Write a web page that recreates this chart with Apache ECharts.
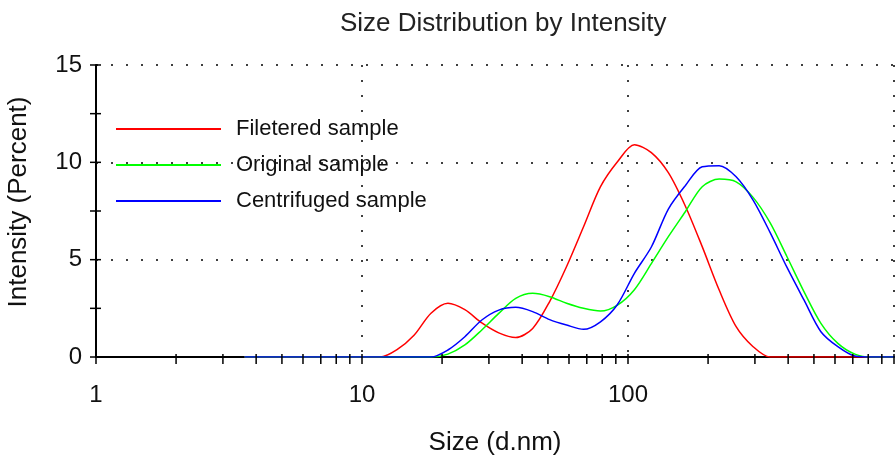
<!DOCTYPE html>
<html>
<head>
<meta charset="utf-8">
<script src="https://cdn.jsdelivr.net/npm/echarts@6/dist/echarts.min.js"></script>
<style>
  html, body { margin: 0; padding: 0; background: #fff; overflow: hidden; }
  #chart { width: 100vw; height: 100vh; }
</style>
</head>
<body>
<div id="chart"></div>
<script>
// size classes (d.nm)
const sizes = [3.615, 4.187, 4.849, 5.615, 6.503, 7.531, 8.721, 10.10, 11.70, 13.54,
  15.69, 18.17, 21.04, 24.36, 28.21, 32.67, 37.84, 43.82, 50.75, 58.77,
  68.06, 78.82, 91.28, 105.7, 122.4, 141.8, 164.2, 190.1, 220.2, 255.0,
  295.3, 342.0, 396.1, 458.7, 531.2, 615.1, 712.4, 825.0, 955.4, 1106]

// intensity (%) per size class
const filtered = [0, 0, 0, 0, 0, 0, 0, 0, 0, 0.38,
  1.12, 2.25, 2.76, 2.43, 1.75, 1.24, 1.0, 1.47, 2.85, 4.65,
  6.69, 8.75, 10.03, 10.9, 10.5, 9.47, 7.76, 5.67, 3.44, 1.56,
  0.53, 0, 0, 0, 0, 0, 0, 0, 0, 0]
const original = [0, 0, 0, 0, 0, 0, 0, 0, 0, 0,
  0, 0, 0.15, 0.62, 1.39, 2.24, 3.01, 3.27, 3.1, 2.76,
  2.5, 2.36, 2.67, 3.46, 4.8, 6.18, 7.46, 8.75, 9.14, 9.0,
  8.2, 6.9, 5.15, 3.36, 1.73, 0.7, 0.15, 0, 0, 0]
const centrifuged = [0, 0, 0, 0, 0, 0, 0, 0, 0, 0,
  0, 0, 0.36, 1.04, 1.9, 2.41, 2.55, 2.33, 1.92, 1.64,
  1.42, 1.81, 2.7, 4.3, 5.65, 7.6, 8.8, 9.77, 9.83, 9.26,
  8.06, 6.4, 4.6, 2.93, 1.3, 0.53, 0.05, 0, 0, 0]

const seriesNames = ['Filetered sample', 'Original sample', 'Centrifuged sample']
const seriesColors = ['#ff0000', '#00ff00', '#0000ff']

// axis tick positions
const xTickValues = [1, 2, 3, 4, 5, 6, 7, 8, 9, 10, 20, 30, 40, 50, 60, 70, 80, 90,
  100, 200, 300, 400, 500, 600, 700, 800, 900, 1000]
const xLabelValues = [1, 10, 100]
const yTickValues = [0, 2.5, 5, 7.5, 10, 12.5, 15]

const font = "'Liberation Sans', Arial, sans-serif"
const dotted = { type: [2, 13], color: '#000', width: 1.5 }
// vertical positions as a share of the 458 px tall picture
const pct = px => (px / 458 * 100).toFixed(2) + '%'

const chart = echarts.init(document.getElementById('chart'), null, { renderer: 'canvas' })

const lineSeries = [filtered, original, centrifuged].map((vals, i) => ({
  name: seriesNames[i],
  type: 'line',
  data: sizes.map((s, j) => [s, vals[j]]),
  showSymbol: false,
  smooth: 0.3,
  clip: true,
  color: seriesColors[i],
  lineStyle: { width: 1.5, color: seriesColors[i] },
  z: 3 + i
}))

chart.setOption({
  animation: false,
  textStyle: { fontFamily: font },
  title: {
    text: 'Size Distribution by Intensity',
    left: 340,
    top: pct(11),
    padding: 0,
    textStyle: { fontFamily: font, fontSize: 26, fontWeight: 'normal', color: '#222' }
  },
  legend: {
    data: seriesNames,
    orient: 'vertical',
    left: 116,
    top: pct(118),
    padding: 0,
    icon: 'rect',
    itemWidth: 105,
    itemHeight: 2,
    itemGap: 14,
    textStyle: { fontFamily: font, fontSize: 22, lineHeight: 22, color: '#111', padding: [0, 0, 0, 10] }
  },
  grid: {
    left: 96,
    right: 1,
    top: pct(65),
    bottom: pct(101),
    containLabel: false,
    outerBoundsMode: 'none'
  },
  xAxis: {
    type: 'log',
    logBase: 10,
    min: 1,
    max: 1000,
    name: 'Size (d.nm)',
    nameLocation: 'middle',
    nameGap: 73,
    nameTextStyle: { fontFamily: font, fontSize: 26, color: '#111' },
    axisLine: { lineStyle: { color: '#000', width: 2 } },
    axisTick: { show: false },
    axisLabel: {
      fontFamily: font,
      fontSize: 24,
      color: '#111',
      margin: 26,
      formatter: v => (xLabelValues.includes(Math.round(v)) ? String(Math.round(v)) : '')
    },
    splitLine: { show: true, lineStyle: dotted }
  },
  yAxis: {
    type: 'value',
    min: 0,
    max: 15,
    interval: 5,
    name: 'Intensity (Percent)',
    nameLocation: 'middle',
    nameGap: 64,
    nameTextStyle: { fontFamily: font, fontSize: 26, color: '#111', padding: [0, 0, 0, 18] },
    axisLine: { show: true, lineStyle: { color: '#000', width: 2 } },
    axisTick: { show: false },
    axisLabel: { fontFamily: font, fontSize: 24, color: '#111', margin: 14 },
    splitLine: { show: true, lineStyle: dotted }
  },
  series: [
    ...lineSeries,
    {
      type: 'custom',
      name: 'xTicks',
      silent: true,
      clip: false,
      z: 10,
      data: xTickValues.map(v => [v, 0]),
      renderItem: (params, api) => {
        const p = api.coord([api.value(0), 0])
        return {
          type: 'line',
          shape: { x1: p[0], y1: p[1] - 3, x2: p[0], y2: p[1] + 7 },
          style: { stroke: '#000', lineWidth: 1.5 }
        }
      }
    },
    {
      type: 'custom',
      name: 'yTicks',
      silent: true,
      clip: false,
      z: 10,
      data: yTickValues.map(v => [1, v]),
      renderItem: (params, api) => {
        const p = api.coord([1, api.value(1)])
        return {
          type: 'line',
          shape: { x1: p[0] - 6, y1: p[1], x2: p[0] + 5, y2: p[1] },
          style: { stroke: '#000', lineWidth: 1.5 }
        }
      }
    }
  ]
})

window.addEventListener('resize', () => chart.resize())
</script>
</body>
</html>
